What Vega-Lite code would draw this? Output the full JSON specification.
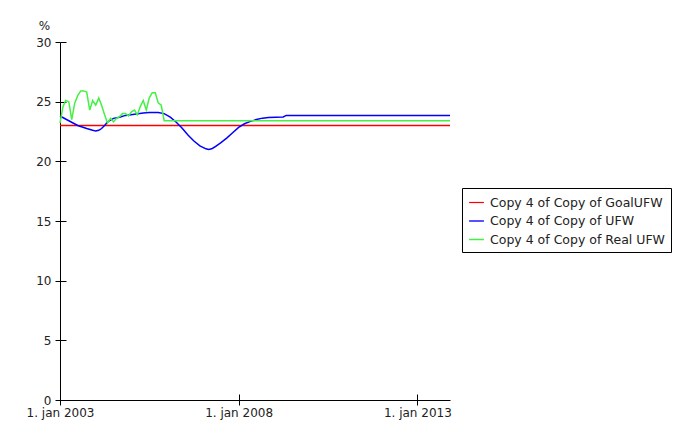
{
  "$schema": "https://vega.github.io/schema/vega-lite/v6.json",
  "width": 390,
  "height": 358,
  "autosize": {"type": "none"},
  "padding": {"left": 60, "top": 42, "right": 223, "bottom": 28},
  "config": {
    "view": {"stroke": null},
    "font": "DejaVu Sans",
    "axis": {"labelFont": "DejaVu Sans", "labelFontSize": 12, "labelColor": "#222", "domainColor": "#000", "tickColor": "#000", "grid": false}
  },
  "data": {"values": [
    {"s": "Copy 4 of Copy of GoalUFW", "d": "2003-01-01", "v": 23.0},
    {"s": "Copy 4 of Copy of GoalUFW", "d": "2013-12-01", "v": 23.0},
    {"s": "Copy 4 of Copy of UFW", "d": "2003-01-01", "v": 23.8},
    {"s": "Copy 4 of Copy of UFW", "d": "2003-04-01", "v": 23.4},
    {"s": "Copy 4 of Copy of UFW", "d": "2003-07-01", "v": 23.0},
    {"s": "Copy 4 of Copy of UFW", "d": "2003-10-01", "v": 22.75},
    {"s": "Copy 4 of Copy of UFW", "d": "2003-12-01", "v": 22.6},
    {"s": "Copy 4 of Copy of UFW", "d": "2004-01-01", "v": 22.55},
    {"s": "Copy 4 of Copy of UFW", "d": "2004-02-01", "v": 22.6},
    {"s": "Copy 4 of Copy of UFW", "d": "2004-03-01", "v": 22.75},
    {"s": "Copy 4 of Copy of UFW", "d": "2004-04-01", "v": 23.0},
    {"s": "Copy 4 of Copy of UFW", "d": "2004-05-01", "v": 23.3},
    {"s": "Copy 4 of Copy of UFW", "d": "2004-07-01", "v": 23.6},
    {"s": "Copy 4 of Copy of UFW", "d": "2004-09-01", "v": 23.7},
    {"s": "Copy 4 of Copy of UFW", "d": "2004-11-01", "v": 23.85},
    {"s": "Copy 4 of Copy of UFW", "d": "2005-02-01", "v": 23.95},
    {"s": "Copy 4 of Copy of UFW", "d": "2005-05-01", "v": 24.05},
    {"s": "Copy 4 of Copy of UFW", "d": "2005-07-01", "v": 24.1},
    {"s": "Copy 4 of Copy of UFW", "d": "2005-10-01", "v": 24.1},
    {"s": "Copy 4 of Copy of UFW", "d": "2005-12-01", "v": 24.0},
    {"s": "Copy 4 of Copy of UFW", "d": "2006-02-01", "v": 23.7},
    {"s": "Copy 4 of Copy of UFW", "d": "2006-04-01", "v": 23.3},
    {"s": "Copy 4 of Copy of UFW", "d": "2006-06-01", "v": 22.8},
    {"s": "Copy 4 of Copy of UFW", "d": "2006-08-01", "v": 22.2},
    {"s": "Copy 4 of Copy of UFW", "d": "2006-10-01", "v": 21.7},
    {"s": "Copy 4 of Copy of UFW", "d": "2006-12-01", "v": 21.3},
    {"s": "Copy 4 of Copy of UFW", "d": "2007-02-01", "v": 21.05},
    {"s": "Copy 4 of Copy of UFW", "d": "2007-03-01", "v": 21.0},
    {"s": "Copy 4 of Copy of UFW", "d": "2007-04-01", "v": 21.05},
    {"s": "Copy 4 of Copy of UFW", "d": "2007-05-01", "v": 21.2},
    {"s": "Copy 4 of Copy of UFW", "d": "2007-07-01", "v": 21.55},
    {"s": "Copy 4 of Copy of UFW", "d": "2007-09-01", "v": 21.95},
    {"s": "Copy 4 of Copy of UFW", "d": "2007-11-01", "v": 22.4},
    {"s": "Copy 4 of Copy of UFW", "d": "2008-01-01", "v": 22.85},
    {"s": "Copy 4 of Copy of UFW", "d": "2008-03-01", "v": 23.15},
    {"s": "Copy 4 of Copy of UFW", "d": "2008-05-01", "v": 23.35},
    {"s": "Copy 4 of Copy of UFW", "d": "2008-07-01", "v": 23.5},
    {"s": "Copy 4 of Copy of UFW", "d": "2008-09-01", "v": 23.62},
    {"s": "Copy 4 of Copy of UFW", "d": "2008-11-01", "v": 23.68},
    {"s": "Copy 4 of Copy of UFW", "d": "2009-04-01", "v": 23.72},
    {"s": "Copy 4 of Copy of UFW", "d": "2009-05-01", "v": 23.85},
    {"s": "Copy 4 of Copy of UFW", "d": "2013-12-01", "v": 23.85},
    {"s": "Copy 4 of Copy of Real UFW", "d": "2003-01-01", "v": 23.2},
    {"s": "Copy 4 of Copy of Real UFW", "d": "2003-02-01", "v": 24.6},
    {"s": "Copy 4 of Copy of Real UFW", "d": "2003-03-01", "v": 25.1},
    {"s": "Copy 4 of Copy of Real UFW", "d": "2003-04-01", "v": 25.0},
    {"s": "Copy 4 of Copy of Real UFW", "d": "2003-05-01", "v": 23.5},
    {"s": "Copy 4 of Copy of Real UFW", "d": "2003-06-01", "v": 24.9},
    {"s": "Copy 4 of Copy of Real UFW", "d": "2003-07-01", "v": 25.5},
    {"s": "Copy 4 of Copy of Real UFW", "d": "2003-08-01", "v": 25.9},
    {"s": "Copy 4 of Copy of Real UFW", "d": "2003-09-01", "v": 25.9},
    {"s": "Copy 4 of Copy of Real UFW", "d": "2003-10-01", "v": 25.8},
    {"s": "Copy 4 of Copy of Real UFW", "d": "2003-11-01", "v": 24.3},
    {"s": "Copy 4 of Copy of Real UFW", "d": "2003-12-01", "v": 25.1},
    {"s": "Copy 4 of Copy of Real UFW", "d": "2004-01-01", "v": 24.7},
    {"s": "Copy 4 of Copy of Real UFW", "d": "2004-02-01", "v": 25.3},
    {"s": "Copy 4 of Copy of Real UFW", "d": "2004-03-01", "v": 24.7},
    {"s": "Copy 4 of Copy of Real UFW", "d": "2004-04-01", "v": 23.9},
    {"s": "Copy 4 of Copy of Real UFW", "d": "2004-05-01", "v": 23.2},
    {"s": "Copy 4 of Copy of Real UFW", "d": "2004-06-01", "v": 23.6},
    {"s": "Copy 4 of Copy of Real UFW", "d": "2004-07-01", "v": 23.3},
    {"s": "Copy 4 of Copy of Real UFW", "d": "2004-08-01", "v": 23.6},
    {"s": "Copy 4 of Copy of Real UFW", "d": "2004-09-01", "v": 23.75},
    {"s": "Copy 4 of Copy of Real UFW", "d": "2004-10-01", "v": 24.0},
    {"s": "Copy 4 of Copy of Real UFW", "d": "2004-11-01", "v": 24.0},
    {"s": "Copy 4 of Copy of Real UFW", "d": "2004-12-01", "v": 23.8},
    {"s": "Copy 4 of Copy of Real UFW", "d": "2005-01-01", "v": 24.15},
    {"s": "Copy 4 of Copy of Real UFW", "d": "2005-02-01", "v": 24.3},
    {"s": "Copy 4 of Copy of Real UFW", "d": "2005-03-01", "v": 23.9},
    {"s": "Copy 4 of Copy of Real UFW", "d": "2005-04-01", "v": 24.6},
    {"s": "Copy 4 of Copy of Real UFW", "d": "2005-05-01", "v": 25.1},
    {"s": "Copy 4 of Copy of Real UFW", "d": "2005-06-01", "v": 24.3},
    {"s": "Copy 4 of Copy of Real UFW", "d": "2005-07-01", "v": 25.3},
    {"s": "Copy 4 of Copy of Real UFW", "d": "2005-08-01", "v": 25.75},
    {"s": "Copy 4 of Copy of Real UFW", "d": "2005-09-01", "v": 25.75},
    {"s": "Copy 4 of Copy of Real UFW", "d": "2005-10-01", "v": 24.9},
    {"s": "Copy 4 of Copy of Real UFW", "d": "2005-11-01", "v": 24.7},
    {"s": "Copy 4 of Copy of Real UFW", "d": "2005-12-01", "v": 23.4},
    {"s": "Copy 4 of Copy of Real UFW", "d": "2013-12-01", "v": 23.4}
  ]},
  "resolve": {"axis": {"x": "independent", "y": "independent"}},
  "layer": [
    {
      "mark": {"type": "line", "strokeWidth": 1.5},
      "encoding": {
        "x": {"field": "d", "type": "temporal",
          "scale": {"type": "utc", "domain": [{"year": 2003, "month": 1, "date": 1, "utc": true}, {"year": 2013, "month": 12, "date": 1, "utc": true}]},
          "axis": {"title": null, "orient": "bottom", "values": [{"year": 2003, "month": 1, "date": 1, "utc": true}, {"year": 2008, "month": 1, "date": 1, "utc": true}, {"year": 2013, "month": 1, "date": 1, "utc": true}],
            "labelExpr": "'1. jan ' + utcFormat(datum.value, '%Y')", "tickSize": 5, "labelPadding": 2, "labelFlush": false, "labelOverlap": false}},
        "y": {"field": "v", "type": "quantitative",
          "scale": {"domain": [0, 30], "nice": false, "zero": true},
          "axis": {"orient": "left", "values": [0, 5, 10, 15, 20, 25, 30], "tickSize": 5, "labelPadding": 4,
            "title": "%", "titleAngle": 0, "titleX": -16, "titleY": -13, "titleAlign": "center", "titleBaseline": "alphabetic",
            "titleFontWeight": "normal", "titleFontSize": 12, "titleFont": "DejaVu Sans", "titleColor": "#222"}},
        "color": {"field": "s", "type": "nominal",
          "scale": {"domain": ["Copy 4 of Copy of GoalUFW", "Copy 4 of Copy of UFW", "Copy 4 of Copy of Real UFW"], "range": ["#ff0000", "#0000ff", "#44f044"]},
          "legend": {"title": null, "orient": "none", "legendX": 402, "legendY": 146, "symbolType": "stroke", "symbolSize": 220, "symbolStrokeWidth": 1.5,
            "labelFont": "DejaVu Sans", "labelFontSize": 12.5, "labelColor": "#222", "labelLimit": 400, "rowPadding": 3.5, "padding": 6,
            "strokeColor": "#000", "fillColor": "#fff", "labelOffset": 5}},
        "strokeWidth": {"field": "s", "type": "nominal", "scale": {"domain": ["Copy 4 of Copy of GoalUFW", "Copy 4 of Copy of UFW", "Copy 4 of Copy of Real UFW"], "range": [1.2, 1.5, 2.2]}, "legend": null}
      }
    },
    {
      "mark": {"type": "line", "strokeOpacity": 0},
      "encoding": {
        "x": {"field": "d", "type": "temporal",
          "axis": {"title": null, "orient": "bottom", "values": [{"year": 2003, "month": 1, "date": 1, "utc": true}, {"year": 2008, "month": 1, "date": 1, "utc": true}, {"year": 2013, "month": 1, "date": 1, "utc": true}],
            "labels": false, "domain": false, "tickSize": -6}},
        "y": {"field": "v", "type": "quantitative",
          "axis": {"title": null, "orient": "left", "values": [0, 5, 10, 15, 20, 25, 30], "labels": false, "domain": false, "tickSize": -6}},
        "detail": {"field": "s"}
      }
    }
  ]
}
